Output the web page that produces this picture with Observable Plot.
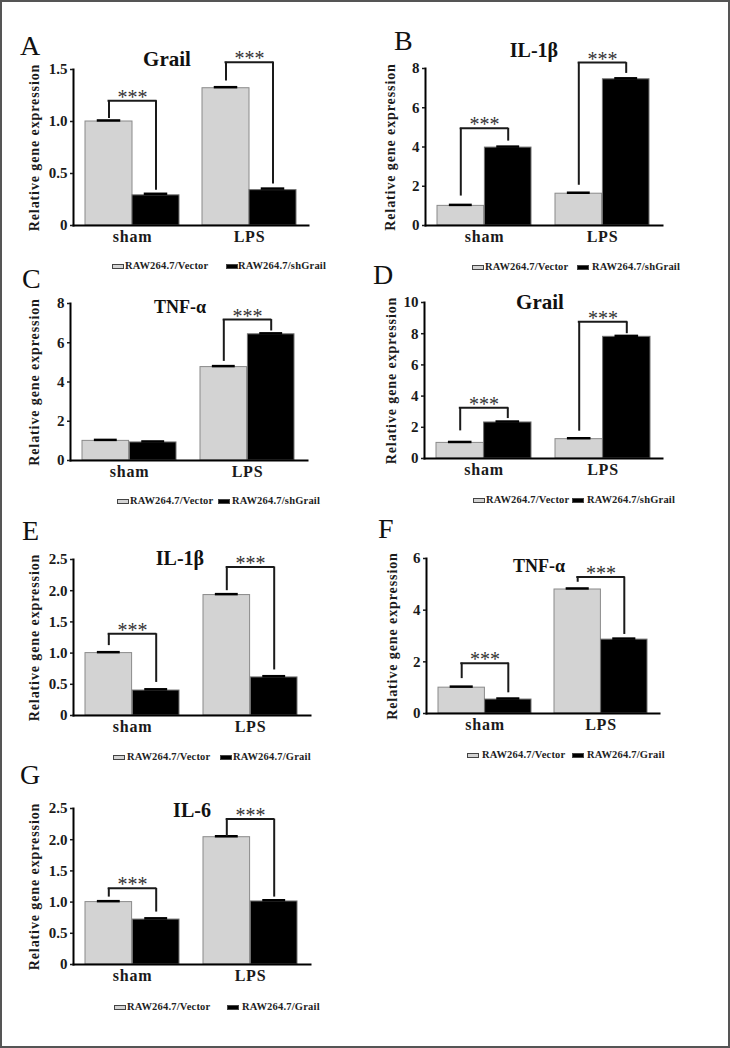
<!DOCTYPE html>
<html><head><meta charset="utf-8">
<script src="https://cdn.jsdelivr.net/npm/d3@7"></script>
<script src="https://cdn.jsdelivr.net/npm/@observablehq/plot@0.6"></script>
<style>
html,body{margin:0;padding:0;background:#fff;}
body{width:730px;height:1048px;position:relative;overflow:hidden;font-family:"Liberation Serif","Times New Roman",serif;}
#border{position:absolute;left:0;top:0;width:730px;height:1048px;box-sizing:border-box;border:2px solid #555;}
.abs{position:absolute;white-space:nowrap;line-height:1;}
.letter{font-size:28px;color:#111;}
.title{font-weight:bold;color:#111;transform:translateX(-50%);}
.legtxt{font-size:10.5px;font-weight:bold;color:#222;letter-spacing:0.2px;}
.sw{position:absolute;width:12px;height:5px;box-sizing:border-box;border:1px solid #444;}
.panel{position:absolute;}
</style></head><body>
<div id="border"></div>
<script>
// ---- data ----
const groups = ["sham", "LPS"];
const panelLetters = ["A", "B", "C", "D", "E", "F", "G"];
const panelTitles = ["Grail", "IL-1β", "TNF-α", "Grail", "IL-1β", "TNF-α", "IL-6"];
const seriesNames = [
  ["RAW264.7/Vector", "RAW264.7/shGrail"],
  ["RAW264.7/Vector", "RAW264.7/shGrail"],
  ["RAW264.7/Vector", "RAW264.7/shGrail"],
  ["RAW264.7/Vector", "RAW264.7/shGrail"],
  ["RAW264.7/Vector", "RAW264.7/Grail"],
  ["RAW264.7/Vector", "RAW264.7/Grail"],
  ["RAW264.7/Vector", "RAW264.7/Grail"]
];
const yLabel = "Relative gene expression";
const vectorValues = [[1.00, 1.32], [1.00, 1.62], [1.00, 4.76], [1.00, 1.24], [1.00, 1.93], [1.00, 4.80], [1.00, 2.04]];
const otherValues  = [[0.29, 0.34], [3.97, 7.45], [0.92, 6.43], [2.31, 7.80], [0.40, 0.61], [0.54, 2.86], [0.72, 1.01]];
const vectorErrors = [[0.01, 0.01], [0.05, 0.05], [0.05, 0.05], [0.06, 0.06], [0.015, 0.015], [0.04, 0.04], [0.015, 0.015]];
const otherErrors  = [[0.015, 0.015], [0.05, 0.05], [0.05, 0.05], [0.06, 0.06], [0.02, 0.02], [0.04, 0.04], [0.02, 0.02]];
const yMax = [1.5, 8, 8, 10, 2.5, 6, 2.5];
const yTicks = [
  [0, 0.5, 1, 1.5], [0, 2, 4, 6, 8], [0, 2, 4, 6, 8], [0, 2, 4, 6, 8, 10],
  [0, 0.5, 1, 1.5, 2, 2.5], [0, 2, 4, 6], [0, 0.5, 1, 1.5, 2, 2.5]
];
const yTickLabels = [
  ["0", "0.5", "1.0", "1.5"], ["0", "2", "4", "6", "8"], ["0", "2", "4", "6", "8"], ["0", "2", "4", "6", "8", "10"],
  ["0", "0.5", "1.0", "1.5", "2.0", "2.5"], ["0", "2", "4", "6"], ["0", "0.5", "1.0", "1.5", "2.0", "2.5"]
];
const signifLabel = "***";
const signifTop      = [[1.20, 1.57], [4.95, 8.30], [null, 7.18], [3.25, 8.76], [1.31, 2.38], [1.95, 5.28], [1.22, 2.33]];
const signifLeftEnd  = [[1.03, 1.39], [1.50, 2.05], [null, 5.05], [1.77, 1.75], [1.12, 2.00], [1.35, 5.08], [1.08, 2.05]];
const signifRightEnd = [[0.34, 0.40], [4.30, 7.75], [null, 6.60], [2.56, 8.00], [0.53, 0.73], [0.80, 3.06], [0.84, 1.08]];

// ---- layout (page pixels) ----
const layout = [
  {L: 73,  R: 308, T: 69,  B: 225, letter: [20, 55],   title: [167, 67, 21],  leg: {y: 266,  sw: [112, 226], tx: [125, 238]}, ylab: -39},
  {L: 425, R: 662, T: 68,  B: 225, letter: [394, 50],  title: [534, 57, 20],  leg: {y: 267,  sw: [472, 577], tx: [485, 592]}, ylab: -35},
  {L: 70,  R: 307, T: 303, B: 460, letter: [22, 288],  title: [180, 313, 18], leg: {y: 501,  sw: [117, 218], tx: [130, 232]}, ylab: -36},
  {L: 424, R: 662, T: 302, B: 458, letter: [373, 284], title: [540, 310, 21], leg: {y: 500,  sw: [473, 572], tx: [486, 587]}, ylab: -33},
  {L: 73,  R: 310, T: 559, B: 715, letter: [22, 540],  title: [180, 565, 20], leg: {y: 757,  sw: [113, 220], tx: [127, 233]}, ylab: -39},
  {L: 426, R: 659, T: 558, B: 713, letter: [378, 538], title: [539, 572, 18], leg: {y: 755,  sw: [467, 572], tx: [482, 587]}, ylab: -34},
  {L: 73,  R: 310, T: 808, B: 964, letter: [20, 784],  title: [192, 817, 20], leg: {y: 1007, sw: [114, 227], tx: [127, 242]}, ylab: -39}
];
const FONT = "'Liberation Serif','Times New Roman',serif";
const GRAY = "#d3d3d3";
const INK = "#1a1a1a";

function addDiv(cls, left, top, text, extra) {
  const d = document.createElement("div");
  d.className = "abs " + cls;
  d.style.left = left + "px";
  d.style.top = top + "px";
  if (text != null) d.textContent = text;
  if (extra) Object.assign(d.style, extra);
  document.body.appendChild(d);
  return d;
}

panelLetters.forEach((letter, i) => {
  const lay = layout[i];
  const W = lay.R - lay.L, H = lay.B - lay.T;
  const mL = 60, mR = 12, mT = 50, mB = 32;
  const step = W / 2;
  const bw = step * 0.8;
  const half = bw / 2;
  const rows = groups.map((g, j) => ({
    group: g, v: vectorValues[i][j], k: otherValues[i][j], ve: vectorErrors[i][j], ke: otherErrors[i][j]
  }));
  const br = groups.map((g, j) => signifTop[i][j] == null ? null : {
    group: g, top: signifTop[i][j], lb: signifLeftEnd[i][j], rb: signifRightEnd[i][j]
  }).filter(Boolean);
  const ticks = yTicks[i], labels = yTickLabels[i];

  const svg = Plot.plot({
    width: mL + W + mR, height: mT + H + mB,
    marginLeft: mL, marginRight: mR, marginTop: mT, marginBottom: mB,
    x: {domain: groups, paddingInner: 0.2, paddingOuter: 0.1},
    y: {domain: [0, yMax[i]]},
    style: {fontFamily: FONT, background: "transparent", overflow: "visible", color: INK},
    marks: [
      Plot.barY(rows, {x: "group", y: "v", insetRight: half, fill: GRAY, stroke: "#8a8a8a", strokeWidth: 1}),
      Plot.barY(rows, {x: "group", y: "k", insetLeft: half, fill: "#000", stroke: "#707070", strokeWidth: 1}),
      Plot.tickY(rows, {x: "group", y: d => d.v + d.ve, insetLeft: half / 4, insetRight: half + half / 4, stroke: "#000", strokeWidth: 2.5}),
      Plot.tickY(rows, {x: "group", y: d => d.k + d.ke, insetLeft: half + half / 4, insetRight: half / 4, stroke: "#000", strokeWidth: 2.5}),
      Plot.ruleX(br, {x: "group", y1: "lb", y2: "top", dx: -half / 2, stroke: INK, strokeWidth: 2}),
      Plot.ruleX(br, {x: "group", y1: "rb", y2: "top", dx: half / 2, stroke: INK, strokeWidth: 2}),
      Plot.ruleY(br, {x1: "group", x2: "group", y: "top", insetLeft: half / 2 - 1, insetRight: half / 2 - 1, stroke: INK, strokeWidth: 2}),
      Plot.text(br, {x: "group", y: "top", text: () => signifLabel, fontSize: 20, lineAnchor: "bottom", dy: 3, fill: "#333"}),
      Plot.frame({anchor: "left", stroke: "#000", strokeWidth: 2}),
      Plot.frame({anchor: "bottom", stroke: "#000", strokeWidth: 2}),
      Plot.axisY({ticks, tickFormat: d => labels[ticks.indexOf(d)], tickSize: 3, tickPadding: 3, strokeWidth: 1.5, fontSize: 15, fontWeight: "bold", label: null}),
      Plot.axisX({tickSize: 0, tickPadding: 5, fontSize: 16, fontWeight: "bold", label: null}),
      Plot.text([yLabel], {frameAnchor: "left", rotate: -90, dx: lay.ylab, fontSize: 14, fontWeight: "bold", lineAnchor: "middle", textAnchor: "middle"})
    ]
  });
  d3.select(svg).selectAll("text").filter(function () { return this.textContent === yLabel; }).attr("letter-spacing", "0.9");
  d3.select(svg).selectAll("text").filter(function () { return groups.includes(this.textContent); }).attr("letter-spacing", "0.8");
  const wrap = document.createElement("div");
  wrap.className = "panel";
  wrap.style.left = (lay.L - mL) + "px";
  wrap.style.top = (lay.T - mT) + "px";
  wrap.appendChild(svg);
  document.body.appendChild(wrap);

  // panel letter
  addDiv("letter", lay.letter[0], lay.letter[1] - 0.8375 * 28, letter);
  // title
  const [tx, tb, ts] = lay.title;
  addDiv("title", tx, tb - 0.8375 * ts, panelTitles[i], {fontSize: ts + "px"});
  // legend
  const fs = 10.5;
  seriesNames[i].forEach((name, j) => {
    const sw = addDiv("", lay.leg.sw[j], lay.leg.y - 2.5, null);
    sw.className = "sw";
    sw.style.background = j === 0 ? GRAY : "#000";
    addDiv("legtxt", lay.leg.tx[j], lay.leg.y + 0.331 * fs - 0.8375 * fs, name);
  });
});
</script></body></html>
